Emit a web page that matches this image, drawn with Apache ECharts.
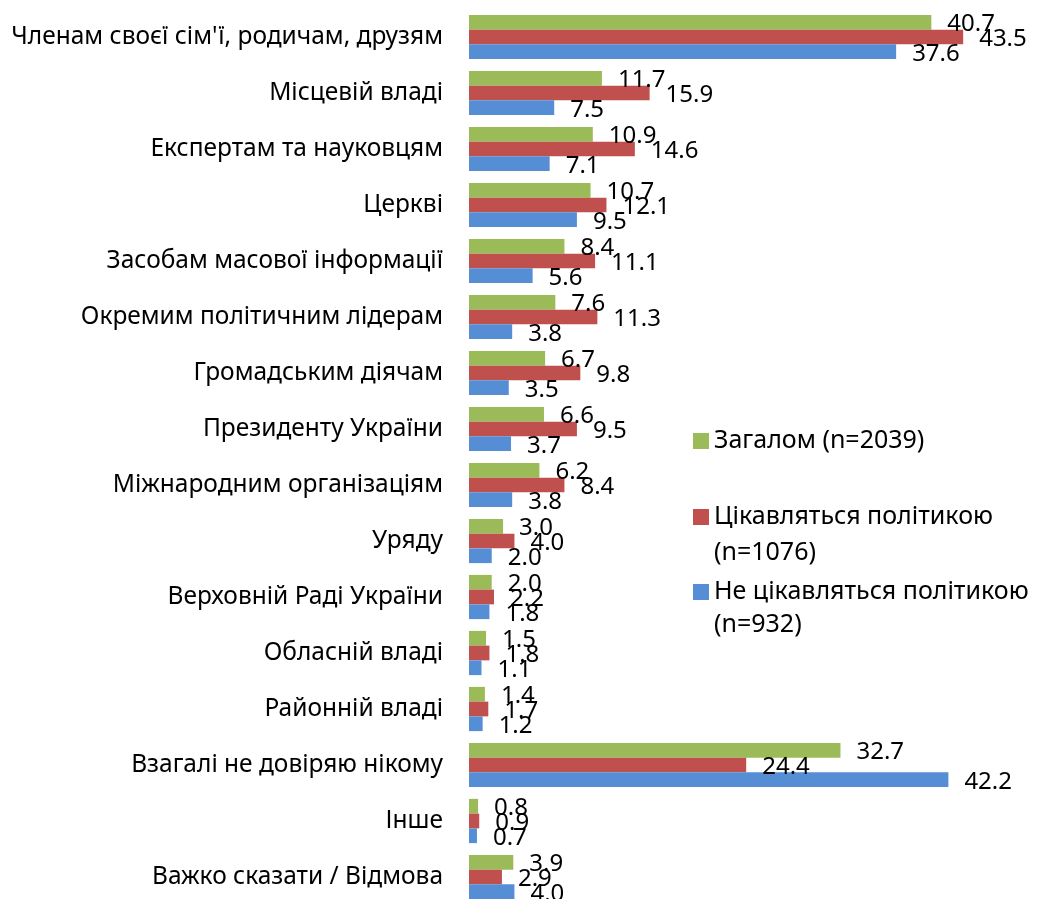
<!DOCTYPE html>
<html>
<head>
<meta charset="utf-8">
<script src="https://cdn.jsdelivr.net/npm/echarts@6/dist/echarts.min.js"></script>
<style>
  html, body { margin: 0; padding: 0; background: #fff; }
  #container { width: 1039px; height: 899px; }
</style>
</head>
<body>
<div id="container"></div>
<script>
var categories = [
  "Членам своєї сім'ї, родичам, друзям",
  'Місцевій владі',
  'Експертам та науковцям',
  'Церкві',
  'Засобам масової інформації',
  'Окремим політичним лідерам',
  'Громадським діячам',
  'Президенту України',
  'Міжнародним організаціям',
  'Уряду',
  'Верховній Раді України',
  'Обласній владі',
  'Районній владі',
  'Взагалі не довіряю нікому',
  'Інше',
  'Важко сказати / Відмова'
];
var seriesNames = [
  'Загалом (n=2039)',
  'Цікавляться політикою (n=1076)',
  'Не цікавляться політикою (n=932)'
];
var totalValues = [40.7, 11.7, 10.9, 10.7, 8.4, 7.6, 6.7, 6.6, 6.2, 3.0, 2.0, 1.5, 1.4, 32.7, 0.8, 3.9];
var interestedValues = [43.5, 15.9, 14.6, 12.1, 11.1, 11.3, 9.8, 9.5, 8.4, 4.0, 2.2, 1.8, 1.7, 24.4, 0.9, 2.9];
var notInterestedValues = [37.6, 7.5, 7.1, 9.5, 5.6, 3.8, 3.5, 3.7, 3.8, 2.0, 1.8, 1.1, 1.2, 42.2, 0.7, 4.0];

var colors = ['#9BBB59', '#C0504D', '#558ED5'];
var font = 'Noto Sans';

var dom = document.getElementById('container');
var myChart = echarts.init(dom, null, { renderer: 'canvas' });

var valueLabel = {
  show: true,
  position: 'right',
  distance: 16,
  offset: [0, 2],
  color: '#000',
  fontFamily: font,
  fontSize: 24,
  formatter: function (p) { return p.value.toFixed(1); }
};

// legend text: first line next to the icon, the "(n=...)" part goes on a second line
function firstLine(n) {
  return n.length > 20 ? n.slice(0, n.indexOf(' (')) : n;
}
function secondLine(n) {
  return n.slice(n.indexOf(' (') + 1);
}

function legendItem(name, top) {
  return {
    data: [name],
    left: 693,
    top: top,
    padding: 0,
    orient: 'vertical',
    icon: 'rect',
    itemWidth: 16,
    itemHeight: 16,
    selectedMode: false,
    textStyle: {
      fontFamily: font,
      fontSize: 25,
      color: '#000',
      lineHeight: 34
    },
    formatter: firstLine
  };
}

function legendSecond(name, y) {
  return {
    type: 'text',
    left: 714,
    top: y - 17,
    style: {
      text: secondLine(name),
      fontFamily: font,
      fontSize: 25,
      fill: '#000',
      lineHeight: 34
    }
  };
}

var option = {
  animation: false,
  color: colors,
  grid: { left: 469, top: 9, width: 568, height: 896, outerBoundsMode: 'none' },
  legend: [
    legendItem(seriesNames[0], 424),
    legendItem(seriesNames[1], 500),
    legendItem(seriesNames[2], 575)
  ],
  graphic: [
    legendSecond(seriesNames[1], 553),
    legendSecond(seriesNames[2], 625)
  ],
  xAxis: {
    type: 'value',
    min: 0,
    max: 50,
    show: false
  },
  yAxis: {
    type: 'category',
    data: categories,
    inverse: true,
    axisLine: { show: false },
    axisTick: { show: false },
    axisLabel: {
      margin: 26,
      color: '#000',
      fontFamily: font,
      fontSize: 24.5
    }
  },
  series: [
    {
      name: seriesNames[0],
      type: 'bar',
      data: totalValues,
      barGap: '0%',
      barCategoryGap: '21%',
      label: valueLabel
    },
    {
      name: seriesNames[1],
      type: 'bar',
      data: interestedValues,
      barGap: '0%',
      barCategoryGap: '21%',
      label: valueLabel
    },
    {
      name: seriesNames[2],
      type: 'bar',
      data: notInterestedValues,
      barGap: '0%',
      barCategoryGap: '21%',
      label: valueLabel
    }
  ]
};

myChart.setOption(option);
</script>
</body>
</html>
